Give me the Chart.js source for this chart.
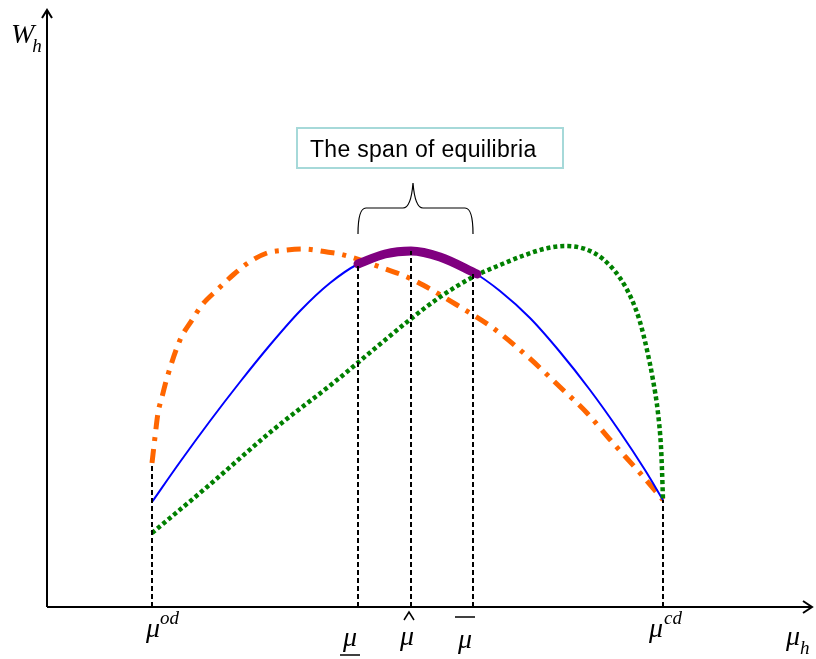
<!DOCTYPE html>
<html><head><meta charset="utf-8">
<script src="https://cdn.jsdelivr.net/npm/chart.js@4/dist/chart.umd.min.js"></script>
<style>html,body{margin:0;padding:0;background:#fff}#wrap{width:816px;height:659px;position:relative}</style>
</head><body><div id="wrap"><canvas id="c"></canvas></div>
<script>
// axis ranges (abstract units)
const xMax = 763, yMax = 597;

// blue solid curve
const blueX = [105,133,163,193,223,253,283,311,338,364,393,426,453,483,513,543,573,598,616];
const blueY = [105,145,186,225,262,296,324,343,353,356,350,335,316,289,255,217,175,137,107];

// purple: span of equilibria on blue curve
const purpleX = [311,338,364,393,430];
const purpleY = [343,353,356,350,333];

// orange dash-dot curve
const orangeX = [105,108,111,115,120,133,145,155,170,186,201,220,240,256,280,293,336,360,376,410,446,480,513,540,566,593,616];
const orangeY = [144,170,194,210,229,267,287,302,317,332,344,354,357,358,355,353,339,330,322,302,279,251,220,194,164,134,107];

// green dotted curve
const greenX = [105,160,226,290,326,365,393,426,453,478,501,518,538,556,573,585,593,600,606,611,614,615,616];
const greenY = [74,120,177,227,257,289,310,330,342,352,359,361,358,348,329,307,285,257,227,194,160,137,107];

// marked positions on x axis and heights of the dashed guides
const markKeys = ['od','low','hat','high','cd'];
const markX = [105,311,364,426,616];
const markTop = [144,343,356,333,107];

const boxText = 'The span of equilibria';

function pts(xs, ys){ return xs.map((x,i)=>({x, y: ys[i]})); }

const datasets = [];
markKeys.forEach((k,i)=>{
  datasets.push({data:[{x:markX[i],y:0},{x:markX[i],y:markTop[i]}], borderColor:'#000', borderWidth:2, borderDash:[5,3], pointRadius:0, order:0});
});
datasets.push({data:pts(purpleX,purpleY), borderColor:'#800080', borderWidth:9, borderCapStyle:'round', pointRadius:0, cubicInterpolationMode:'monotone', order:1});
datasets.push({data:pts(greenX,greenY), borderColor:'#008000', borderWidth:4.5, borderDash:[4,3], pointRadius:0, cubicInterpolationMode:'monotone', order:2});
datasets.push({data:pts(blueX,blueY), borderColor:'#0000ff', borderWidth:2, pointRadius:0, cubicInterpolationMode:'monotone', order:3});
datasets.push({data:pts(orangeX,orangeY), borderColor:'#ff6600', borderWidth:5, borderDash:[14,8,4,8], pointRadius:0, cubicInterpolationMode:'monotone', order:4});

const deco = {
  id:'deco',
  afterDraw(chart){
    const ctx = chart.ctx, xs = chart.scales.x, ys = chart.scales.y;
    const ox = xs.getPixelForValue(0), oy = ys.getPixelForValue(0);
    const top = ys.getPixelForValue(yMax), right = xs.getPixelForValue(xMax);
    ctx.save();
    ctx.strokeStyle = '#000'; ctx.lineWidth = 2; ctx.setLineDash([]);
    // axes
    ctx.beginPath(); ctx.moveTo(ox, oy); ctx.lineTo(ox, top); ctx.stroke();
    ctx.beginPath(); ctx.moveTo(ox, oy); ctx.lineTo(right+2, oy); ctx.stroke();
    ctx.beginPath(); ctx.moveTo(ox-5, top+8); ctx.lineTo(ox, top); ctx.lineTo(ox+5, top+8); ctx.stroke();
    ctx.beginPath(); ctx.moveTo(right-7, oy-6); ctx.lineTo(right+2, oy); ctx.lineTo(right-7, oy+6); ctx.stroke();

    // brace
    const xl = xs.getPixelForValue(markX[1]), xr = xs.getPixelForValue(markX[3]), xc = xs.getPixelForValue(markX[2]) + 2;
    const by = 208, bTop = 183, bBot = 234;
    ctx.lineWidth = 1.2;
    ctx.beginPath();
    ctx.moveTo(xl, bBot);
    ctx.quadraticCurveTo(xl, by, xl+8, by);
    ctx.lineTo(xc-10, by);
    ctx.quadraticCurveTo(xc-2, by, xc, bTop);
    ctx.quadraticCurveTo(xc+2, by, xc+10, by);
    ctx.lineTo(xr-8, by);
    ctx.quadraticCurveTo(xr, by, xr, bBot);
    ctx.stroke();

    // box
    ctx.strokeStyle = '#a6d9d9'; ctx.lineWidth = 2;
    ctx.strokeRect(297, 128, 266, 40);
    ctx.fillStyle = '#000';
    ctx.font = '23px "Liberation Sans", Arial, sans-serif';
    ctx.letterSpacing = '0.3px';
    ctx.textBaseline = 'alphabetic'; ctx.textAlign = 'left';
    ctx.fillText(boxText, 310, 157);
    ctx.letterSpacing = '0px';

    // math labels
    const big = 'italic 28px "Liberation Serif", "Times New Roman", serif';
    const small = 'italic 19px "Liberation Serif", "Times New Roman", serif';
    const mu = '\u03BC';
    ctx.lineWidth = 1.5; ctx.strokeStyle = '#000';
    // mu^od
    let px = xs.getPixelForValue(markX[0]);
    ctx.font = big; ctx.fillText(mu, px-6, 637);
    let w = ctx.measureText(mu).width;
    ctx.font = small; ctx.fillText('od', px-6+w, 624);
    // underline mu
    px = xs.getPixelForValue(markX[1]);
    ctx.font = big; w = ctx.measureText(mu).width;
    ctx.fillText(mu, px-8-w/2, 646);
    ctx.beginPath(); ctx.moveTo(px-18, 655); ctx.lineTo(px+2, 655); ctx.stroke();
    // hat mu
    px = xs.getPixelForValue(markX[2]);
    ctx.fillText(mu, px-4-w/2, 645);
    ctx.beginPath(); ctx.moveTo(px-7, 620); ctx.lineTo(px-2, 612); ctx.lineTo(px+3, 620); ctx.stroke();
    // bar mu
    px = xs.getPixelForValue(markX[3]);
    ctx.fillText(mu, px-8-w/2, 648);
    ctx.beginPath(); ctx.moveTo(px-18, 617); ctx.lineTo(px+2, 617); ctx.stroke();
    // mu^cd
    px = xs.getPixelForValue(markX[4]);
    ctx.fillText(mu, px-w, 637);
    ctx.font = small; ctx.fillText('cd', px+1, 624);
    // mu_h
    ctx.font = big; ctx.fillText(mu, 786, 645);
    ctx.font = small; ctx.fillText('h', 786+w, 654);
    // W_h
    ctx.font = big; ctx.fillText('W', 11, 43);
    const ww = ctx.measureText('W').width;
    ctx.font = small; ctx.fillText('h', 9+ww, 52);
    ctx.restore();
  }
};

new Chart(document.getElementById('c'), {
  type:'line',
  data:{datasets},
  options:{
    responsive:true, maintainAspectRatio:false, animation:false,
    layout:{padding:{left:47, top:10, right:6, bottom:52}},
    scales:{
      x:{type:'linear', min:0, max:xMax, display:false},
      y:{type:'linear', min:0, max:yMax, display:false}
    },
    plugins:{legend:{display:false}, tooltip:{enabled:false}},
    elements:{line:{fill:false}}
  },
  plugins:[deco]
});
</script></body></html>
